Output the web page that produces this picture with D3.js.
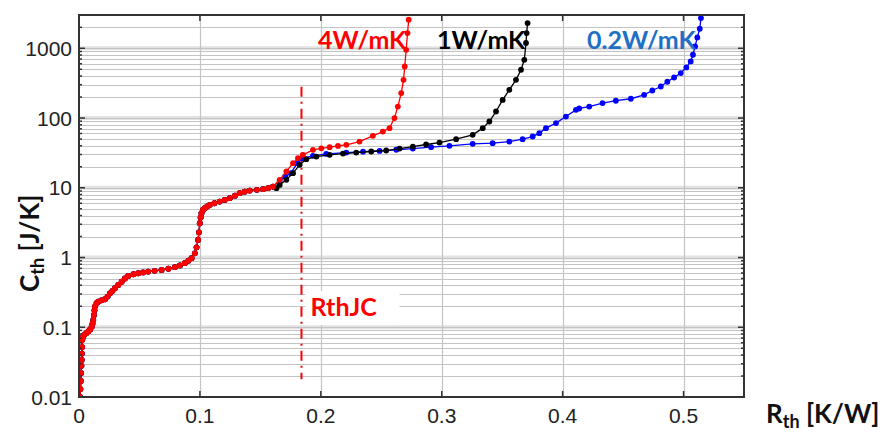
<!DOCTYPE html>
<html>
<head>
<meta charset="utf-8">
<script src="https://cdn.jsdelivr.net/npm/d3@7"></script>
<style>
  body { margin: 0; background: #fff; }
  svg { display: block; }
</style>
</head>
<body>
<div id="chart"></div>
<script>
  'use strict';

  // shared low part of the structure function (all three curves lie on top of each other)
  var commonRth = [0.0008, 0.0012, 0.0015, 0.0018, 0.002, 0.0022, 0.0024, 0.0026, 0.0027, 0.0032,
    0.0044, 0.006, 0.0077, 0.0092, 0.0105, 0.0112, 0.0118, 0.0124, 0.0128, 0.0132,
    0.0145, 0.0159, 0.0185, 0.0215, 0.0236, 0.0256, 0.0277, 0.0297, 0.0325, 0.0353,
    0.038, 0.0407, 0.045, 0.049, 0.053, 0.0572, 0.0625, 0.0683, 0.074, 0.0793,
    0.0835, 0.0875, 0.0905, 0.0931, 0.0958, 0.0972, 0.0985, 0.0992, 0.0999, 0.1006,
    0.1013, 0.1025, 0.104, 0.106, 0.1082, 0.112, 0.1164, 0.1205, 0.1247, 0.129,
    0.1329, 0.137, 0.1412, 0.147, 0.1522, 0.1565, 0.1604];
  var commonCth = [0.01, 0.013, 0.017, 0.022, 0.028, 0.034, 0.042, 0.052, 0.066, 0.072,
    0.078, 0.082, 0.087, 0.093, 0.102, 0.113, 0.127, 0.15, 0.175, 0.198,
    0.222, 0.233, 0.243, 0.252, 0.275, 0.307, 0.333, 0.363, 0.405, 0.451,
    0.5, 0.544, 0.575, 0.595, 0.612, 0.628, 0.645, 0.664, 0.69, 0.726,
    0.77, 0.829, 0.9, 0.977, 1.15, 1.4, 1.79, 2.3, 3.1, 3.75,
    4.32, 4.8, 5.1, 5.4, 5.69, 6.0, 6.34, 6.7, 7.1, 7.7,
    8.37, 8.8, 9.12, 9.35, 9.55, 9.9, 10.4];

  // 4 W/mK tail
  var redRth = [0.166, 0.1715, 0.177, 0.1811, 0.1852, 0.1935, 0.2004, 0.2073, 0.2142, 0.2211,
    0.232, 0.243, 0.2513, 0.2568, 0.2609, 0.2637, 0.2665, 0.2684, 0.2694, 0.2706,
    0.2717, 0.2727];
  var redCth = [13.0, 17.1, 22.5, 26.6, 29.7, 35.0, 36.8, 38.2, 39.8, 41.3,
    46.0, 55.6, 64.0, 71.6, 99.7, 146, 228, 353, 548, 951,
    1650, 2570];

  // 1 W/mK tail
  var blackRth = [0.1633, 0.166, 0.1715, 0.177, 0.1825, 0.188, 0.1963, 0.2073, 0.2183, 0.2293,
    0.2417, 0.2541, 0.2651, 0.2761, 0.2871, 0.2981, 0.3119, 0.3256, 0.3339, 0.3394,
    0.3449, 0.3504, 0.3559, 0.3614, 0.3656, 0.3683, 0.3697, 0.3702, 0.371];
  var blackCth = [9.87, 11.0, 13.0, 16.2, 21.3, 25.7, 28.0, 29.7, 30.9, 32.0,
    33.1, 34.2, 36.5, 39.0, 41.7, 44.5, 49.8, 57.4, 71.6, 89.1,
    124, 182, 254, 353, 492, 684, 1190, 1650, 2300];

  // 0.2 W/mK tail
  var blueRth = [0.166, 0.1705, 0.1751, 0.1806, 0.1852, 0.1935, 0.2045, 0.2211, 0.2349, 0.2486,
    0.2624, 0.2761, 0.2912, 0.3064, 0.3256, 0.3421, 0.3559, 0.3669, 0.3752, 0.3807,
    0.3862, 0.3945, 0.4027, 0.411, 0.4137, 0.422, 0.433, 0.444, 0.4564, 0.4674,
    0.4742, 0.4812, 0.4866, 0.4922, 0.4977, 0.5023, 0.5059, 0.5078, 0.5095, 0.5114,
    0.5134, 0.5144];
  var blueCth = [12.5, 14.5, 16.2, 22.5, 26.6, 28.7, 30.6, 32.0, 32.9, 33.8,
    35.1, 36.5, 38.2, 39.9, 42.7, 43.6, 46.0, 49.8, 54.3, 60.7,
    71.6, 84.5, 105, 131, 137, 146, 164, 177, 189, 215,
    248, 283, 331, 381, 441, 531, 647, 807, 1062, 1429,
    1905, 2710];

  var xTicks = [0, 0.1, 0.2, 0.3, 0.4, 0.5];
  var yTicks = [0.01, 0.1, 1, 10, 100, 1000];
  var rthJC = 0.184;

  var width = 883, height = 434;
  var margin = { top: 15, right: 139, bottom: 37, left: 79 };

  var svg = d3.select('#chart').append('svg')
    .attr('width', width)
    .attr('height', height);

  var x = d3.scaleLinear().domain([0, 0.55]).range([margin.left, width - margin.right]);
  var y = d3.scaleLog().domain([0.01, 3000]).range([height - margin.bottom, margin.top]);

  var x0 = x.range()[0], x1 = x.range()[1];
  var y0 = y.range()[0], y1 = y.range()[1];

  // minor values for every decade
  var minorVals = [];
  [0.01, 0.1, 1, 10, 100, 1000].forEach(function(dec) {
    for (var k = 2; k <= 9; k++) {
      if (dec * k <= 3000) minorVals.push(dec * k);
    }
  });

  var grid = svg.append('g');

  // decade lines (soft wide band + line)
  grid.selectAll('.band').data(yTicks.slice(1))
    .enter().append('line')
    .attr('x1', x0).attr('x2', x1)
    .attr('y1', function(d) { return y(d); })
    .attr('y2', function(d) { return y(d); })
    .attr('stroke', '#e2e2e2')
    .attr('stroke-width', 4);

  grid.selectAll('.minor').data(minorVals.concat(yTicks.slice(1)))
    .enter().append('line')
    .attr('x1', x0).attr('x2', x1)
    .attr('y1', function(d) { return Math.round(y(d)) + 0.5; })
    .attr('y2', function(d) { return Math.round(y(d)) + 0.5; })
    .attr('stroke', '#c4c4c4')
    .attr('stroke-width', 1);

  grid.selectAll('.vgrid').data(xTicks.slice(1))
    .enter().append('line')
    .attr('x1', function(d) { return Math.round(x(d)) + 0.5; })
    .attr('x2', function(d) { return Math.round(x(d)) + 0.5; })
    .attr('y1', y1).attr('y2', y0)
    .attr('stroke', '#c4c4c4')
    .attr('stroke-width', 1.2);

  // RthJC marker line and label
  svg.append('line')
    .attr('x1', x(rthJC)).attr('x2', x(rthJC))
    .attr('y1', y(280)).attr('y2', y(0.018))
    .attr('stroke', '#ff0000')
    .attr('stroke-width', 2)
    .attr('stroke-dasharray', '10,5,2,5');

  svg.append('rect')
    .attr('x', x(rthJC) + 4).attr('y', y(0.33))
    .attr('width', 94).attr('height', 34)
    .attr('fill', '#fff');

  svg.append('text')
    .attr('x', x(rthJC) + 9).attr('y', 316)
    .attr('fill', '#ff0000')
    .style('font-family', 'Lato, "Open Sans", sans-serif')
    .style('font-weight', 'bold')
    .style('font-size', '25px')
    .text('RthJC');

  // curves
  svg.append('clipPath').attr('id', 'plot-clip')
    .append('rect')
    .attr('x', x0).attr('y', y1)
    .attr('width', x1 - x0).attr('height', y0 - y1);

  function buildSeries(rth, cth) {
    var pts = commonRth.map(function(r, i) { return { r: r, c: commonCth[i] }; });
    return pts.concat(rth.map(function(r, i) { return { r: r, c: cth[i] }; }));
  }

  var series = [
    { name: '0.2W/mK', color: '#0000ff', data: buildSeries(blueRth, blueCth) },
    { name: '1W/mK', color: '#000000', data: buildSeries(blackRth, blackCth) },
    { name: '4W/mK', color: '#ff0000', data: buildSeries(redRth, redCth) }
  ];

  var line = d3.line()
    .x(function(d) { return x(d.r); })
    .y(function(d) { return y(d.c); });

  var plot = svg.append('g').attr('clip-path', 'url(#plot-clip)');

  series.forEach(function(s) {
    var g = plot.append('g');
    g.append('path')
      .datum(s.data)
      .attr('d', line)
      .attr('fill', 'none')
      .attr('stroke', s.color)
      .attr('stroke-width', 1.3);
    g.selectAll('circle').data(s.data)
      .enter().append('circle')
      .attr('cx', function(d) { return x(d.r); })
      .attr('cy', function(d) { return y(d.c); })
      .attr('r', 2.9)
      .attr('fill', s.color);
  });

  // frame
  svg.append('rect')
    .attr('x', x0).attr('y', y1)
    .attr('width', x1 - x0).attr('height', y0 - y1)
    .attr('fill', 'none')
    .attr('stroke', '#333')
    .attr('stroke-width', 2);

  // ticks (inward on all four sides)
  var tickG = svg.append('g').attr('stroke', '#333').attr('stroke-width', 1.5);
  xTicks.slice(1).forEach(function(d) {
    tickG.append('line').attr('x1', x(d)).attr('x2', x(d)).attr('y1', y0).attr('y2', y0 - 6);
    tickG.append('line').attr('x1', x(d)).attr('x2', x(d)).attr('y1', y1).attr('y2', y1 + 6);
  });
  yTicks.forEach(function(d) {
    tickG.append('line').attr('x1', x0).attr('x2', x0 + 6).attr('y1', y(d)).attr('y2', y(d));
    tickG.append('line').attr('x1', x1).attr('x2', x1 - 6).attr('y1', y(d)).attr('y2', y(d));
  });
  minorVals.forEach(function(d) {
    tickG.append('line').attr('x1', x0).attr('x2', x0 + 3).attr('y1', y(d)).attr('y2', y(d));
    tickG.append('line').attr('x1', x1).attr('x2', x1 - 3).attr('y1', y(d)).attr('y2', y(d));
  });

  // tick labels
  var tickFont = '"Liberation Sans", Arial, sans-serif';
  svg.append('g').selectAll('text').data(xTicks)
    .enter().append('text')
    .attr('x', function(d) { return x(d); })
    .attr('y', y0 + 26)
    .attr('text-anchor', 'middle')
    .attr('fill', '#222')
    .style('font-family', tickFont)
    .style('font-size', '21px')
    .text(function(d) { return d3.format('~g')(d); });

  svg.append('g').selectAll('text').data(yTicks)
    .enter().append('text')
    .attr('x', x0 - 7)
    .attr('y', function(d) { return y(d) + 7.5; })
    .attr('text-anchor', 'end')
    .attr('fill', '#222')
    .style('font-family', tickFont)
    .style('font-size', '21px')
    .text(function(d) { return d3.format('~g')(d); });

  // axis titles
  var titleFont = 'Lato, "Open Sans", sans-serif';
  var xt = svg.append('text')
    .attr('x', 766).attr('y', 423)
    .attr('fill', '#111')
    .style('font-family', titleFont)
    .style('font-weight', 'bold')
    .style('font-size', '26px');
  xt.append('tspan').text('R');
  xt.append('tspan').attr('dy', 5).style('font-size', '18px').text('th');
  xt.append('tspan').attr('dy', -5).text(' [K/W]');

  var yt = svg.append('text')
    .attr('transform', 'translate(39,292) rotate(-90)')
    .attr('fill', '#111')
    .style('font-family', titleFont)
    .style('font-weight', 'bold')
    .style('font-size', '26px');
  yt.append('tspan').text('C');
  yt.append('tspan').attr('dy', 5).style('font-size', '18px').text('th');
  yt.append('tspan').attr('dy', -5).text(' [J/K]');

  // series labels
  var labels = [
    { text: '4W/mK', color: '#ff0000', x: 318 },
    { text: '1W/mK', color: '#000000', x: 437 },
    { text: '0.2W/mK', color: '#1f6fc4', x: 587 }
  ];
  svg.append('g').selectAll('text').data(labels)
    .enter().append('text')
    .attr('x', function(d) { return d.x; })
    .attr('y', 49)
    .attr('fill', function(d) { return d.color; })
    .style('font-family', titleFont)
    .style('font-weight', 'bold')
    .style('font-size', '25px')
    .text(function(d) { return d.text; });
</script>
</body>
</html>
